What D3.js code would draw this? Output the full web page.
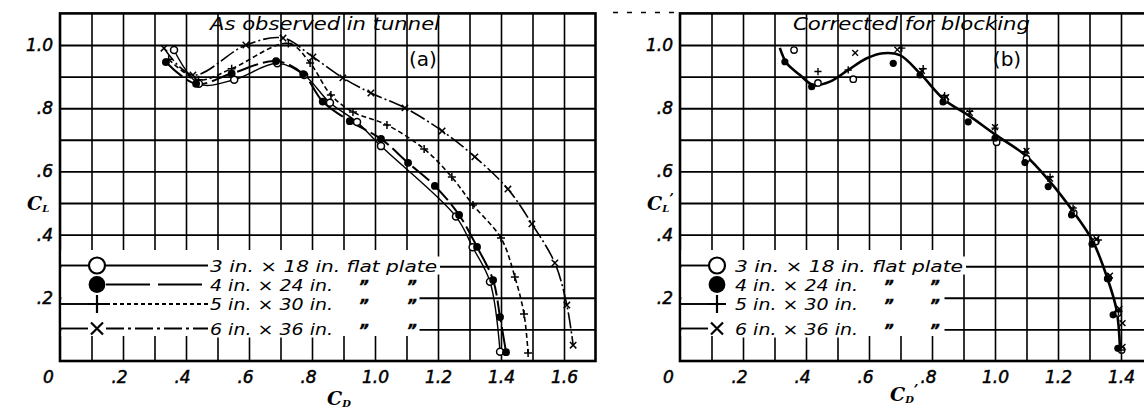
<!DOCTYPE html>
<html><head><meta charset="utf-8">
<script src="https://cdn.jsdelivr.net/npm/d3@7"></script>
<style>body{margin:0;background:#fff}svg{display:block}</style>
</head><body><svg id="c" width="1144" height="409"></svg>
<script>
// ---------- data ----------
const xTicks=[0,.2,.4,.6,.8,1.0,1.2,1.4,1.6];
const xTickLabels=["0",".2",".4",".6",".8","1.0","1.2","1.4","1.6"];
const yTicks=[.2,.4,.6,.8,1.0];
const yTickLabels=[".2",".4",".6",".8","1.0"];
const gridX=[.1,.2,.3,.4,.5,.6,.7,.8,.9,1.0,1.1,1.2,1.3,1.4,1.5,1.6];
const gridY=[.1,.2,.3,.4,.5,.6,.7,.8,.9,1.0];
const seriesNames=["3 in. × 18 in. flat plate","4 in. × 24 in.","5 in. × 30 in.","6 in. × 36 in."];
const seriesMarks=["open","filled","plus","cross"];
const titles=["As observed in tunnel","Corrected for blocking"];
const panelTags=["(a)","(b)"];

// panel (a): as observed in tunnel  [C_D, C_L]
const aOpen=[[0.362,0.984],[0.441,0.877],[0.553,0.89],[0.69,0.942],[0.775,0.905],[0.857,0.817],[0.943,0.756],[1.019,0.68],[1.257,0.457],[1.31,0.36],[1.365,0.251],[1.397,0.029]];
const aFilled=[[0.336,0.946],[0.432,0.877],[0.545,0.91],[0.686,0.949],[0.772,0.908],[0.834,0.821],[0.92,0.759],[1.019,0.703],[1.105,0.627],[1.19,0.554],[1.267,0.462],[1.324,0.361],[1.375,0.256],[1.397,0.139],[1.416,0.028]];
const aPlus=[[0.345,0.955],[0.44,0.89],[0.545,0.925],[0.725,1.005],[0.794,0.943],[0.86,0.842],[0.93,0.788],[1.038,0.747],[1.156,0.671],[1.244,0.582],[1.311,0.494],[1.40,0.389],[1.444,0.266],[1.473,0.149],[1.486,0.025]];
const aCross=[[0.33,0.99],[0.422,0.905],[0.59,1.0],[0.708,1.022],[0.803,0.962],[0.898,0.896],[0.987,0.848],[1.095,0.801],[1.213,0.728],[1.317,0.646],[1.422,0.544],[1.498,0.434],[1.571,0.31],[1.609,0.177],[1.629,0.05]];

// panel (b): corrected for blocking  [C_D', C_L']
const bCurve=[[0.317,0.991],[0.339,0.942],[0.381,0.905],[0.423,0.873],[0.476,0.884],[0.534,0.921],[0.593,0.958],[0.645,0.974],[0.698,0.968],[0.762,0.91],[0.84,0.826],[0.915,0.778],[1.0,0.717],[1.095,0.652],[1.175,0.567],[1.249,0.472],[1.31,0.38],[1.355,0.267],[1.386,0.161],[1.397,0.035]];
const bOpen=[[0.362,0.984],[0.438,0.88],[0.55,0.892],[0.841,0.826],[1.005,0.692],[1.10,0.64],[1.25,0.468],[1.32,0.378],[1.36,0.262],[1.39,0.152],[1.402,0.035]];
const bFilled=[[0.333,0.947],[0.418,0.868],[0.677,0.942],[0.762,0.905],[0.835,0.82],[0.915,0.757],[1.0,0.705],[1.095,0.628],[1.169,0.552],[1.243,0.462],[1.308,0.37],[1.357,0.26],[1.375,0.146],[1.39,0.04]];
const bPlus=[[0.438,0.916],[0.534,0.921],[0.704,0.99],[0.772,0.925],[0.84,0.84],[0.92,0.79],[1.0,0.737],[1.095,0.662],[1.175,0.583],[1.248,0.484],[1.328,0.383],[1.36,0.267],[1.392,0.156],[1.40,0.035]];
const bCross=[[0.556,0.975],[0.69,0.985],[0.768,0.918],[0.845,0.835],[0.92,0.785],[1.0,0.74],[1.10,0.665],[1.175,0.577],[1.245,0.48],[1.322,0.386],[1.365,0.27],[1.395,0.165],[1.405,0.12],[1.405,0.045]];

// ---------- drawing ----------
const W=1144;
const svg=d3.select("#c");
svg.append("rect").attr("width",W).attr("height",409).attr("fill","#fff");
const NUMFONT="'DejaVu Sans', sans-serif";

function marker(g,type,cx,cy,s,sw){
  if(type==="open"){
    g.append("circle").attr("cx",cx).attr("cy",cy).attr("r",s).attr("fill","#fff").attr("stroke","#000").attr("stroke-width",sw);
  } else if(type==="filled"){
    g.append("circle").attr("cx",cx).attr("cy",cy).attr("r",s+0.4).attr("fill","#000");
  } else if(type==="plus"){
    g.append("path").attr("d",`M${cx-s},${cy}H${cx+s}M${cx},${cy-s}V${cy+s}`).attr("stroke","#000").attr("stroke-width",sw).attr("fill","none");
  } else {
    const t=s*0.8;
    g.append("path").attr("d",`M${cx-t},${cy-t}L${cx+t},${cy+t}M${cx+t},${cy-t}L${cx-t},${cy+t}`).attr("stroke","#000").attr("stroke-width",sw).attr("fill","none");
  }
}

function panel(ox,opt){
  const g=svg.append("g");
  const x=d3.scaleLinear().domain([0,1.7]).range([ox,ox+535.5]);
  const y=d3.scaleLinear().domain([0,1.1]).range([361,13.4]);
  // grid via axes
  const vg=g.append("g").attr("transform",`translate(0,${y(0)})`)
    .call(d3.axisBottom(x).tickValues(gridX).tickSize(-(y(0)-y(1.1))).tickFormat(""));
  vg.select(".domain").remove();
  vg.selectAll("line").attr("stroke","#000").attr("stroke-width",1.6);
  const hg=g.append("g").attr("transform",`translate(${x(0)},0)`)
    .call(d3.axisLeft(y).tickValues(gridY).tickSize(-(x(1.7)-x(0))).tickFormat(""));
  hg.select(".domain").remove();
  hg.selectAll("line").attr("stroke","#000").attr("stroke-width",1.9);
  // border
  g.append("rect").attr("x",x(0)).attr("y",y(1.1)).attr("width",x(1.7)-x(0)).attr("height",y(0)-y(1.1))
    .attr("fill","none").attr("stroke","#000").attr("stroke-width",2.6);

  // tick labels (only those that fall inside the picture)
  const vis=xTicks.map((d,i)=>i).filter(i=>x(xTicks[i])+14<W);
  const xa=g.append("g").attr("transform",`translate(0,${y(0)})`)
    .call(d3.axisBottom(x).tickValues(vis.map(i=>xTicks[i])).tickSize(0).tickPadding(10).tickFormat((d,k)=>xTickLabels[vis[k]]));
  xa.select(".domain").remove();
  xa.selectAll("text").attr("font-family",NUMFONT).attr("font-style","italic").attr("font-size",17)
    .attr("fill","#000").attr("stroke","#000").attr("stroke-width",0.5)
    .attr("dx",(d,k)=>{const l=xTickLabels[vis[k]];return l==="0"?-12:(l[0]==="."?-4:0);});
  const ya=g.append("g").attr("transform",`translate(${x(0)},0)`)
    .call(d3.axisLeft(y).tickValues(yTicks).tickSize(0).tickPadding(7).tickFormat((d,i)=>yTickLabels[i]));
  ya.select(".domain").remove();
  ya.selectAll("text").attr("font-family",NUMFONT).attr("font-style","italic").attr("font-size",17)
    .attr("fill","#000").attr("stroke","#000").attr("stroke-width",0.5);

  // axis titles
  const cl=g.append("text").attr("x",ox-33).attr("y",210).attr("font-family","'DejaVu Serif', serif")
    .attr("font-style","italic").attr("font-weight","bold").attr("font-size",19);
  cl.append("tspan").text("C");
  cl.append("tspan").attr("font-size",10).attr("dy",2).text("L");
  if(opt.prime) cl.append("tspan").attr("font-size",13).attr("dy",-9).text("’");
  const cd=g.append("text").attr("x",opt.cdX).attr("y",opt.cdY).attr("font-family","'DejaVu Serif', serif")
    .attr("font-style","italic").attr("font-weight","bold").attr("font-size",19);
  cd.append("tspan").text("C");
  cd.append("tspan").attr("font-size",10).attr("dy",2).text("D");
  if(opt.prime) cd.append("tspan").attr("font-size",13).attr("dy",-9).text("’");

  // title and tag
  g.append("text").attr("x",opt.titleX).attr("y",30).attr("font-family",NUMFONT).attr("font-style","italic")
    .attr("font-size",18).attr("textLength",opt.titleW).attr("lengthAdjust","spacingAndGlyphs").text(opt.title);
  g.append("text").attr("x",opt.tagX).attr("y",66).attr("text-anchor","middle").attr("font-family",NUMFONT)
    .attr("font-size",20).text(opt.tag);

  // legend
  g.append("rect").attr("x",x(0)+1.5).attr("y",250).attr("width",opt.blankW).attr("height",86).attr("fill","#fff");
  const rowsPx=[265.5,284.5,304,328.5];
  const dashes=[null,"44,8","4,3","18,4,3,4"];
  const msize=[8,8,9,7.5];
  rowsPx.forEach((ry,i)=>{
    const mx=ox+37;
    if(i!==1) g.append("line").attr("x1",x(0)).attr("x2",mx-(i===0?8:9)).attr("y1",ry).attr("y2",ry)
      .attr("stroke","#000").attr("stroke-width",1.9);
    if(opt.legendLines){
      g.append("line").attr("x1",mx+9).attr("x2",ox+148).attr("y1",ry).attr("y2",ry).attr("stroke","#000")
        .attr("stroke-width",2).attr("stroke-dasharray",dashes[i]);
    }
    marker(g,seriesMarks[i],mx,ry,msize[i],2.2);
    const tx=opt.textX;
    const tl=i===0?opt.row1W:123;
    g.append("rect").attr("x",tx-2).attr("y",ry-9).attr("width",tl+5).attr("height",18).attr("fill","#fff");
    g.append("text").attr("x",tx).attr("y",ry+6).attr("font-family",NUMFONT).attr("font-style","italic")
      .attr("font-size",16.5).attr("textLength",tl).attr("lengthAdjust","spacingAndGlyphs").text(seriesNames[i]);
    if(i>0){
      opt.ditto.forEach(dx=>g.append("text").attr("x",dx).attr("y",ry+7).attr("font-family",NUMFONT)
        .attr("font-style","italic").attr("font-weight","bold").attr("font-size",15)
        .attr("fill","#000").attr("stroke","#000").attr("stroke-width",0.6).text("\u201D"));
    }
  });
  return {g,x,y};
}

const line=(x,y)=>d3.line().x(d=>x(d[0])).y(d=>y(d[1])).curve(d3.curveCatmullRom.alpha(0.5));

// ---- panel a ----
const A=panel(60,{title:titles[0],titleX:210,titleW:230,tag:panelTags[0],tagX:423,cdX:327,cdY:405,prime:false,
  blankW:358,textX:210,row1W:227,ditto:[359,407],legendLines:true});
const aSeries=[aOpen,aFilled,aPlus,aCross];
const aStyles=[{w:1.4,d:null},{w:2,d:"22,5"},{w:1.6,d:"5,3"},{w:1.6,d:"16,3,2,3"}];
aSeries.forEach((s,i)=>{
  A.g.append("path").attr("d",line(A.x,A.y)(s)).attr("fill","none").attr("stroke","#000")
    .attr("stroke-width",aStyles[i].w).attr("stroke-dasharray",aStyles[i].d);
});
aSeries.forEach((s,i)=>s.forEach(p=>marker(A.g,seriesMarks[i],A.x(p[0]),A.y(p[1]),i<2?3.5:4,1.5)));

// ---- panel b ----
svg.append("line").attr("x1",613).attr("x2",680).attr("y1",12.5).attr("y2",12.5).attr("stroke","#000")
  .attr("stroke-width",1.5).attr("stroke-dasharray","5,9");
const B=panel(680,{title:titles[1],titleX:793,titleW:237,tag:panelTags[1],tagX:1007,cdX:890,cdY:401,prime:true,
  blankW:263,textX:735,row1W:228,ditto:[884,930],legendLines:false});
B.g.append("path").attr("d",line(B.x,B.y)(bCurve)).attr("fill","none").attr("stroke","#000").attr("stroke-width",2.6);
[bOpen,bFilled,bPlus,bCross].forEach((s,i)=>s.forEach(p=>marker(B.g,seriesMarks[i],B.x(p[0]),B.y(p[1]),i<2?3.2:3.6,1.4)));
</script></body></html>
